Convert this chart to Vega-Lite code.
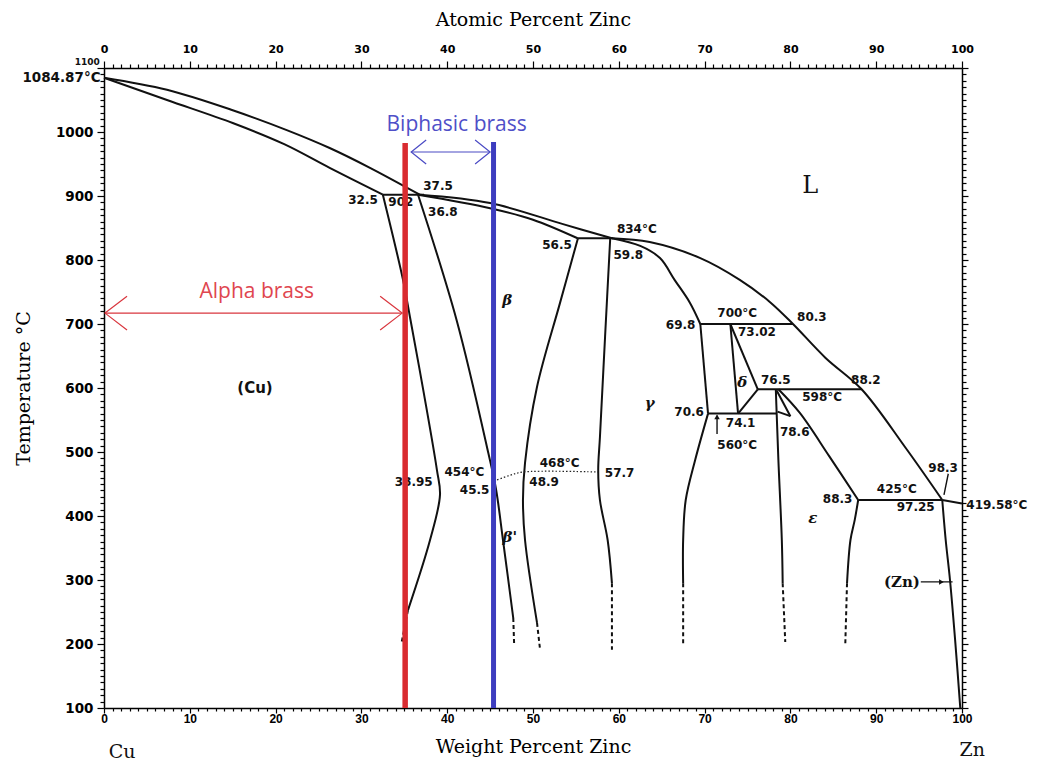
{
  "$schema": "https://vega.github.io/schema/vega-lite/v6.json",
  "width": 858,
  "height": 640,
  "autosize": {"type": "none"},
  "padding": {"left": 104, "top": 68, "right": 79, "bottom": 59},
  "background": "white",
  "config": {"view": {"stroke": null}},
  "datasets": {
    "lines": [
      {"seg": "liq1", "o": 1, "wt": 0, "T": 1084.87},
      {"seg": "liq1", "o": 2, "wt": 7.34, "T": 1066},
      {"seg": "liq1", "o": 3, "wt": 15, "T": 1034},
      {"seg": "liq1", "o": 4, "wt": 21.3, "T": 1003},
      {"seg": "liq1", "o": 5, "wt": 26.3, "T": 975},
      {"seg": "liq1", "o": 6, "wt": 31, "T": 944},
      {"seg": "liq1", "o": 7, "wt": 36.8, "T": 902},
      {"seg": "sol1", "o": 1, "wt": 0, "T": 1084.87},
      {"seg": "sol1", "o": 2, "wt": 7.34, "T": 1050},
      {"seg": "sol1", "o": 3, "wt": 15, "T": 1014},
      {"seg": "sol1", "o": 4, "wt": 21, "T": 981},
      {"seg": "sol1", "o": 5, "wt": 26.3, "T": 944},
      {"seg": "sol1", "o": 6, "wt": 32.5, "T": 902},
      {"seg": "iso902", "o": 1, "wt": 32.5, "T": 902},
      {"seg": "iso902", "o": 2, "wt": 37.3, "T": 902},
      {"seg": "liq2", "o": 1, "wt": 36.8, "T": 902},
      {"seg": "liq2", "o": 2, "wt": 45, "T": 889},
      {"seg": "liq2", "o": 3, "wt": 53.5, "T": 856},
      {"seg": "liq2", "o": 4, "wt": 59.2, "T": 834},
      {"seg": "sol2", "o": 1, "wt": 36.6, "T": 902},
      {"seg": "sol2", "o": 2, "wt": 45, "T": 881},
      {"seg": "sol2", "o": 3, "wt": 50, "T": 863},
      {"seg": "sol2", "o": 4, "wt": 55.2, "T": 834},
      {"seg": "iso834", "o": 1, "wt": 55.2, "T": 834},
      {"seg": "iso834", "o": 2, "wt": 59.3, "T": 834},
      {"seg": "alpha", "o": 1, "wt": 32.5, "T": 902},
      {"seg": "alpha", "o": 2, "wt": 34.85, "T": 769},
      {"seg": "alpha", "o": 3, "wt": 35.66, "T": 711},
      {"seg": "alpha", "o": 4, "wt": 37.3, "T": 590},
      {"seg": "alpha", "o": 5, "wt": 38.8, "T": 472},
      {"seg": "alpha", "o": 6, "wt": 39.16, "T": 433},
      {"seg": "alpha", "o": 7, "wt": 38.0, "T": 362.5},
      {"seg": "alpha", "o": 8, "wt": 35.43, "T": 253},
      {"seg": "beta1", "o": 1, "wt": 36.6, "T": 902},
      {"seg": "beta1", "o": 2, "wt": 41.1, "T": 706},
      {"seg": "beta1", "o": 3, "wt": 44.8, "T": 498},
      {"seg": "beta1", "o": 4, "wt": 45.7, "T": 441},
      {"seg": "beta1", "o": 5, "wt": 46.5, "T": 362.5},
      {"seg": "beta1", "o": 6, "wt": 47.7, "T": 240.6},
      {"seg": "beta2", "o": 1, "wt": 55.24, "T": 834},
      {"seg": "beta2", "o": 2, "wt": 53.15, "T": 733},
      {"seg": "beta2", "o": 3, "wt": 50.47, "T": 602},
      {"seg": "beta2", "o": 4, "wt": 49.07, "T": 483},
      {"seg": "beta2", "o": 5, "wt": 48.83, "T": 425},
      {"seg": "beta2", "o": 6, "wt": 49.07, "T": 362.5},
      {"seg": "beta2", "o": 7, "wt": 50.47, "T": 233},
      {"seg": "gam1", "o": 1, "wt": 59.0, "T": 834},
      {"seg": "gam1", "o": 2, "wt": 58.4, "T": 680},
      {"seg": "gam1", "o": 3, "wt": 57.8, "T": 523},
      {"seg": "gam1", "o": 4, "wt": 57.6, "T": 472},
      {"seg": "gam1", "o": 5, "wt": 57.8, "T": 425},
      {"seg": "gam1", "o": 6, "wt": 58.7, "T": 362.5},
      {"seg": "gam1", "o": 7, "wt": 59.2, "T": 295},
      {"seg": "gsol", "o": 1, "wt": 59.2, "T": 834},
      {"seg": "gsol", "o": 2, "wt": 62.5, "T": 822},
      {"seg": "gsol", "o": 3, "wt": 64.8, "T": 803},
      {"seg": "gsol", "o": 4, "wt": 66.5, "T": 769},
      {"seg": "gsol", "o": 5, "wt": 68.3, "T": 733},
      {"seg": "gsol", "o": 6, "wt": 69.5, "T": 700},
      {"seg": "iso700", "o": 1, "wt": 69.5, "T": 700},
      {"seg": "iso700", "o": 2, "wt": 80.3, "T": 700},
      {"seg": "gam2a", "o": 1, "wt": 69.5, "T": 700},
      {"seg": "gam2a", "o": 2, "wt": 70.4, "T": 560},
      {"seg": "gam2b", "o": 1, "wt": 70.4, "T": 560},
      {"seg": "gam2b", "o": 2, "wt": 68.9, "T": 487.5},
      {"seg": "gam2b", "o": 3, "wt": 67.8, "T": 425},
      {"seg": "gam2b", "o": 4, "wt": 67.5, "T": 362.5},
      {"seg": "gam2b", "o": 5, "wt": 67.5, "T": 295},
      {"seg": "del1", "o": 1, "wt": 73.0, "T": 700},
      {"seg": "del1", "o": 2, "wt": 73.9, "T": 560},
      {"seg": "del2", "o": 1, "wt": 73.0, "T": 700},
      {"seg": "del2", "o": 2, "wt": 76.2, "T": 598},
      {"seg": "del3", "o": 1, "wt": 76.2, "T": 598},
      {"seg": "del3", "o": 2, "wt": 73.9, "T": 560},
      {"seg": "iso598", "o": 1, "wt": 76.2, "T": 598},
      {"seg": "iso598", "o": 2, "wt": 88.3, "T": 598},
      {"seg": "iso560", "o": 1, "wt": 70.4, "T": 560},
      {"seg": "iso560", "o": 2, "wt": 78.4, "T": 560},
      {"seg": "eps1", "o": 1, "wt": 78.3, "T": 598},
      {"seg": "eps1", "o": 2, "wt": 78.4, "T": 560},
      {"seg": "eps1", "o": 3, "wt": 78.6, "T": 487.5},
      {"seg": "eps1", "o": 4, "wt": 79.0, "T": 362.5},
      {"seg": "eps1", "o": 5, "wt": 79.1, "T": 295},
      {"seg": "etri1", "o": 1, "wt": 78.4, "T": 596},
      {"seg": "etri1", "o": 2, "wt": 80.0, "T": 556},
      {"seg": "etri2", "o": 1, "wt": 80.0, "T": 556},
      {"seg": "etri2", "o": 2, "wt": 78.5, "T": 563},
      {"seg": "eps2a", "o": 1, "wt": 78.6, "T": 598},
      {"seg": "eps2a", "o": 2, "wt": 81.1, "T": 561},
      {"seg": "eps2a", "o": 3, "wt": 84.5, "T": 494},
      {"seg": "eps2a", "o": 4, "wt": 87.9, "T": 425},
      {"seg": "eps2b", "o": 1, "wt": 87.9, "T": 425},
      {"seg": "eps2b", "o": 2, "wt": 87.5, "T": 394},
      {"seg": "eps2b", "o": 3, "wt": 87.0, "T": 362.5},
      {"seg": "eps2b", "o": 4, "wt": 86.6, "T": 295},
      {"seg": "iso425", "o": 1, "wt": 87.9, "T": 425},
      {"seg": "iso425", "o": 2, "wt": 97.7, "T": 425},
      {"seg": "liq3", "o": 1, "wt": 59.2, "T": 834},
      {"seg": "liq3", "o": 2, "wt": 63.6, "T": 828},
      {"seg": "liq3", "o": 3, "wt": 69.5, "T": 803},
      {"seg": "liq3", "o": 4, "wt": 74.1, "T": 769},
      {"seg": "liq3", "o": 5, "wt": 77.6, "T": 734.5},
      {"seg": "liq3", "o": 6, "wt": 80.3, "T": 700},
      {"seg": "liq3", "o": 7, "wt": 84.1, "T": 647},
      {"seg": "liq3", "o": 8, "wt": 88.3, "T": 598},
      {"seg": "liq3", "o": 9, "wt": 93.4, "T": 507},
      {"seg": "liq3", "o": 10, "wt": 97.7, "T": 425},
      {"seg": "liq4", "o": 1, "wt": 97.7, "T": 425},
      {"seg": "liq4", "o": 2, "wt": 100, "T": 419.58},
      {"seg": "eta", "o": 1, "wt": 97.7, "T": 425},
      {"seg": "eta", "o": 2, "wt": 98.1, "T": 362.5},
      {"seg": "eta", "o": 3, "wt": 98.6, "T": 300},
      {"seg": "eta", "o": 4, "wt": 99.2, "T": 206},
      {"seg": "eta", "o": 5, "wt": 99.8, "T": 100}
    ],
    "dashed": [
      {"seg": "da", "o": 1, "wt": 35.43, "T": 253},
      {"seg": "da", "o": 2, "wt": 34.7, "T": 203},
      {"seg": "db1", "o": 1, "wt": 47.7, "T": 240.6},
      {"seg": "db1", "o": 2, "wt": 47.8, "T": 200},
      {"seg": "db2", "o": 1, "wt": 50.47, "T": 233},
      {"seg": "db2", "o": 2, "wt": 50.8, "T": 194},
      {"seg": "dg1", "o": 1, "wt": 59.2, "T": 295},
      {"seg": "dg1", "o": 2, "wt": 59.2, "T": 191},
      {"seg": "dg2", "o": 1, "wt": 67.5, "T": 295},
      {"seg": "dg2", "o": 2, "wt": 67.5, "T": 201},
      {"seg": "de1", "o": 1, "wt": 79.1, "T": 295},
      {"seg": "de1", "o": 2, "wt": 79.4, "T": 203},
      {"seg": "de2", "o": 1, "wt": 86.6, "T": 295},
      {"seg": "de2", "o": 2, "wt": 86.4, "T": 201}
    ],
    "dotted": [
      {"seg": "ord", "o": 1, "wt": 45.45, "T": 454.7},
      {"seg": "ord", "o": 2, "wt": 47.3, "T": 463.5},
      {"seg": "ord", "o": 3, "wt": 48.8, "T": 468.7},
      {"seg": "ord", "o": 4, "wt": 57.6, "T": 468.7}
    ],
    "pointers": [
      {"wt": 98.4, "T": 466, "wt2": 97.9, "T2": 433},
      {"wt": 71.45, "T": 528, "wt2": 71.45, "T2": 557},
      {"wt": 95.2, "T": 297, "wt2": 98.9, "T2": 297}
    ],
    "labels": [
      {"wt": 30.19, "T": 893.7, "label": "32.5"},
      {"wt": 34.6, "T": 890.6, "label": "902"},
      {"wt": 38.93, "T": 915.6, "label": "37.5"},
      {"wt": 39.5, "T": 875, "label": "36.8"},
      {"wt": 52.8, "T": 823.4, "label": "56.5"},
      {"wt": 62.1, "T": 848.4, "label": "834°C"},
      {"wt": 61.1, "T": 807.8, "label": "59.8"},
      {"wt": 73.8, "T": 717.2, "label": "700°C"},
      {"wt": 67.2, "T": 698.4, "label": "69.8"},
      {"wt": 76.1, "T": 687.5, "label": "73.02"},
      {"wt": 82.5, "T": 710.9, "label": "80.3"},
      {"wt": 78.3, "T": 612.5, "label": "76.5"},
      {"wt": 83.7, "T": 585.9, "label": "598°C"},
      {"wt": 88.8, "T": 612.5, "label": "88.2"},
      {"wt": 68.2, "T": 562.5, "label": "70.6"},
      {"wt": 74.2, "T": 545.3, "label": "74.1"},
      {"wt": 73.8, "T": 510.9, "label": "560°C"},
      {"wt": 80.5, "T": 531, "label": "78.6"},
      {"wt": 85.5, "T": 426.6, "label": "88.3"},
      {"wt": 92.4, "T": 442.2, "label": "425°C"},
      {"wt": 94.6, "T": 414, "label": "97.25"},
      {"wt": 97.8, "T": 475, "label": "98.3"},
      {"wt": 36.1, "T": 453, "label": "38.95"},
      {"wt": 42.0, "T": 468.75, "label": "454°C"},
      {"wt": 43.2, "T": 440.6, "label": "45.5"},
      {"wt": 53.1, "T": 482.8, "label": "468°C"},
      {"wt": 51.3, "T": 453, "label": "48.9"},
      {"wt": 60.1, "T": 467.2, "label": "57.7"}
    ],
    "greek": [
      {"wt": 47.0, "T": 737.5, "label": "β"},
      {"wt": 47.3, "T": 367, "label": "β'"},
      {"wt": 74.4, "T": 609, "label": "δ"},
      {"wt": 63.6, "T": 576.6, "label": "γ"},
      {"wt": 82.6, "T": 396.9, "label": "ε"}
    ]
  },
  "layer": [
    {
      "encoding": {
        "x": {"field": "wt", "type": "quantitative", "scale": {"domain": [0, 100], "nice": false, "zero": false}, "axis": null},
        "y": {"field": "T", "type": "quantitative", "scale": {"domain": [100, 1100], "nice": false, "zero": false}, "axis": null}
      },
      "layer": [
        {
          "data": {"name": "lines"},
          "mark": {"type": "line", "color": "#111", "strokeWidth": 2, "strokeJoin": "round", "interpolate": "catmull-rom"},
          "encoding": {"detail": {"field": "seg"}, "order": {"field": "o"}}
        },
        {
          "data": {"name": "dashed"},
          "mark": {"type": "line", "color": "#111", "strokeWidth": 2, "strokeDash": [4, 3]},
          "encoding": {"detail": {"field": "seg"}, "order": {"field": "o"}}
        },
        {
          "data": {"name": "dotted"},
          "mark": {"type": "line", "color": "#222", "strokeWidth": 1.2, "strokeDash": [1.5, 2], "interpolate": "catmull-rom"},
          "encoding": {"detail": {"field": "seg"}, "order": {"field": "o"}}
        },
        {
          "data": {"name": "pointers"},
          "mark": {"type": "rule", "color": "#111", "strokeWidth": 1.4},
          "encoding": {"x2": {"field": "wt2"}, "y2": {"field": "T2"}}
        },
        {
          "data": {"values": [{"wt": 71.45, "T": 555}]},
          "mark": {"type": "point", "shape": "triangle-up", "filled": true, "color": "#111", "size": 30, "opacity": 1}
        },
        {
          "data": {"values": [{"wt": 97.6, "T": 297}]},
          "mark": {"type": "point", "shape": "triangle-right", "filled": true, "color": "#111", "size": 30, "opacity": 1}
        },
        {
          "data": {"name": "labels"},
          "mark": {"type": "text", "font": "DejaVu Sans", "fontWeight": "bold", "fontSize": 12, "color": "#111", "align": "center", "baseline": "middle"},
          "encoding": {"text": {"field": "label"}}
        },
        {
          "data": {"name": "greek"},
          "mark": {"type": "text", "font": "DejaVu Serif", "fontStyle": "italic", "fontWeight": "bold", "fontSize": 15, "color": "#111", "align": "center", "baseline": "middle"},
          "encoding": {"text": {"field": "label"}}
        },
        {
          "data": {"values": [{"wt": 17.6, "T": 600, "label": "(Cu)"}]},
          "mark": {"type": "text", "font": "DejaVu Sans", "fontWeight": "bold", "fontSize": 15, "color": "#111", "align": "center", "baseline": "middle"},
          "encoding": {"text": {"field": "label"}}
        },
        {
          "data": {"values": [{"wt": 93.0, "T": 296.9, "label": "(Zn)"}]},
          "mark": {"type": "text", "font": "DejaVu Serif", "fontWeight": "bold", "fontSize": 15, "color": "#111", "align": "center", "baseline": "middle"},
          "encoding": {"text": {"field": "label"}}
        },
        {
          "data": {"values": [{"wt": 82.3, "T": 915.6, "label": "L"}]},
          "mark": {"type": "text", "font": "DejaVu Serif", "fontSize": 24, "color": "#111", "align": "center", "baseline": "middle"},
          "encoding": {"text": {"field": "label"}}
        },
        {
          "data": {"values": [{"wt": -0.4, "T": 1084.87, "label": "1084.87°C"}]},
          "mark": {"type": "text", "font": "DejaVu Sans", "fontWeight": "bold", "fontSize": 13.5, "color": "#111", "align": "right", "baseline": "middle"},
          "encoding": {"text": {"field": "label"}}
        },
        {
          "data": {"values": [{"wt": -0.5, "T": 1101, "label": "1100"}]},
          "mark": {"type": "text", "font": "DejaVu Sans", "fontWeight": "bold", "fontSize": 9, "color": "#111", "align": "right", "baseline": "bottom"},
          "encoding": {"text": {"field": "label"}}
        },
        {
          "data": {"values": [{"wt": 100.5, "T": 417.2, "label": "419.58°C"}]},
          "mark": {"type": "text", "font": "DejaVu Sans", "fontWeight": "bold", "fontSize": 12, "color": "#111", "align": "left", "baseline": "middle"},
          "encoding": {"text": {"field": "label"}}
        },
        {
          "data": {"values": [{"wt": 2.1, "T": 31.25, "label": "Cu"}, {"wt": 101.2, "T": 34.4, "label": "Zn"}]},
          "mark": {"type": "text", "font": "DejaVu Serif", "fontSize": 19, "color": "#111", "align": "center", "baseline": "middle"},
          "encoding": {"text": {"field": "label"}}
        },
        {
          "data": {"values": [{"wt": 35.1, "T": 982.8, "T2": 100}]},
          "mark": {"type": "rule", "color": "#d92b30", "strokeWidth": 5.5},
          "encoding": {"y2": {"field": "T2"}}
        },
        {
          "data": {"values": [{"wt": 45.4, "T": 984.4, "T2": 100}]},
          "mark": {"type": "rule", "color": "#3d3dbf", "strokeWidth": 5},
          "encoding": {"y2": {"field": "T2"}}
        },
        {
          "data": {"values": [{"wt": 0.12, "wt2": 34.75, "T": 717}]},
          "mark": {"type": "rule", "color": "#d9363e", "strokeWidth": 1.2},
          "encoding": {"x2": {"field": "wt2"}}
        },
        {
          "data": {"values": [{"wt": 35.8, "wt2": 45.0, "T": 968.75}]},
          "mark": {"type": "rule", "color": "#4a4ac4", "strokeWidth": 1.2},
          "encoding": {"x2": {"field": "wt2"}}
        },
        {
          "data": {"values": [{"wt": 0.12, "T": 717}]},
          "mark": {"type": "point", "shape": "M1,-0.77L0,0L1,0.77", "filled": false, "stroke": "#d9363e", "strokeWidth": 1.2, "size": 1936, "opacity": 1}
        },
        {
          "data": {"values": [{"wt": 34.75, "T": 717}]},
          "mark": {"type": "point", "shape": "M-1,-0.77L0,0L-1,0.77", "filled": false, "stroke": "#d9363e", "strokeWidth": 1.2, "size": 1936, "opacity": 1}
        },
        {
          "data": {"values": [{"wt": 35.8, "T": 968.75}]},
          "mark": {"type": "point", "shape": "M1,-0.8L0,0L1,0.8", "filled": false, "stroke": "#4a4ac4", "strokeWidth": 1.2, "size": 900, "opacity": 1}
        },
        {
          "data": {"values": [{"wt": 45.0, "T": 968.75}]},
          "mark": {"type": "point", "shape": "M-1,-0.8L0,0L-1,0.8", "filled": false, "stroke": "#4a4ac4", "strokeWidth": 1.2, "size": 900, "opacity": 1}
        },
        {
          "data": {"values": [{"wt": 17.8, "T": 750, "label": "Alpha brass"}]},
          "mark": {"type": "text", "font": "Open Sans", "fontSize": 21, "color": "#e0464f", "align": "center", "baseline": "middle"},
          "encoding": {"text": {"field": "label"}}
        },
        {
          "data": {"values": [{"wt": 41.1, "T": 1010.9, "label": "Biphasic brass"}]},
          "mark": {"type": "text", "font": "Open Sans", "fontSize": 21, "color": "#4f4fc8", "align": "center", "baseline": "middle"},
          "encoding": {"text": {"field": "label"}}
        }
      ]
    },
    {
      "data": {"values": [{"wt": 0, "T": 100}]},
      "mark": {"type": "point", "opacity": 0},
      "encoding": {
        "x": {
          "field": "wt", "type": "quantitative",
          "scale": {"domain": [0, 100], "nice": false, "zero": false},
          "axis": {
            "orient": "bottom", "title": "Weight Percent Zinc", "tickCount": 100, "format": "d",
            "labelExpr": "datum.value % 10 === 0 ? datum.label : ''",
            "tickSize": {"condition": {"test": "datum.value % 10 === 0", "value": 5}, "value": 3},
            "labelOverlap": false, "labelFlush": false, "labelBound": false, "grid": false,
            "domainColor": "#000", "domainWidth": 1.5, "tickColor": "#000", "tickWidth": 1.2,
            "labelFont": "Liberation Sans", "labelFontWeight": "bold", "labelFontSize": 12, "labelColor": "#000", "labelPadding": 0,
            "titleFont": "DejaVu Serif", "titleFontSize": 19, "titleFontWeight": "normal", "titleColor": "#000", "titlePadding": 13
          }
        },
        "y": {
          "field": "T", "type": "quantitative",
          "scale": {"domain": [100, 1100], "nice": false, "zero": false},
          "axis": {
            "orient": "left", "title": "Temperature °C", "tickCount": 100, "format": "d",
            "labelExpr": "datum.value % 100 === 0 && datum.value < 1100 ? datum.label : ''",
            "tickSize": {"condition": {"test": "datum.value % 100 === 0", "value": 7}, "value": 4},
            "labelOverlap": false, "labelFlush": false, "labelBound": false, "grid": false,
            "domainColor": "#000", "domainWidth": 1.5, "tickColor": "#000", "tickWidth": 1.2,
            "labelFont": "DejaVu Sans", "labelFontWeight": "bold", "labelFontSize": 13.5, "labelColor": "#000", "labelPadding": 4,
            "titleFont": "DejaVu Serif", "titleFontSize": 19, "titleFontWeight": "normal", "titleColor": "#000", "titlePadding": 22
          }
        }
      }
    },
    {
      "data": {"values": [{"wt": 0, "T": 100}]},
      "mark": {"type": "point", "opacity": 0},
      "encoding": {
        "x": {
          "field": "wt", "type": "quantitative",
          "scale": {"domain": [0, 100], "nice": false, "zero": false},
          "axis": {
            "orient": "top", "title": "Atomic Percent Zinc", "tickCount": 100, "format": "d",
            "labelExpr": "datum.value % 10 === 0 ? datum.label : ''",
            "tickSize": {"condition": {"test": "datum.value % 10 === 0", "value": 7}, "value": 4},
            "labelOverlap": false, "labelFlush": false, "labelBound": false, "grid": false,
            "domainColor": "#000", "domainWidth": 1.5, "tickColor": "#000", "tickWidth": 1.2,
            "labelFont": "DejaVu Sans", "labelFontWeight": "bold", "labelFontSize": 11, "labelColor": "#000", "labelPadding": 7,
            "titleFont": "DejaVu Serif", "titleFontSize": 19, "titleFontWeight": "normal", "titleColor": "#000", "titlePadding": 14
          }
        },
        "y": {
          "field": "T", "type": "quantitative",
          "scale": {"domain": [100, 1100], "nice": false, "zero": false},
          "axis": {
            "orient": "right", "title": null, "tickCount": 100, "labels": false,
            "tickSize": {"condition": {"test": "datum.value % 100 === 0", "value": 6}, "value": 4},
            "grid": false, "domainColor": "#000", "domainWidth": 1.5, "tickColor": "#000", "tickWidth": 1.2
          }
        }
      }
    }
  ],
  "resolve": {"axis": {"x": "independent", "y": "independent"}}
}
